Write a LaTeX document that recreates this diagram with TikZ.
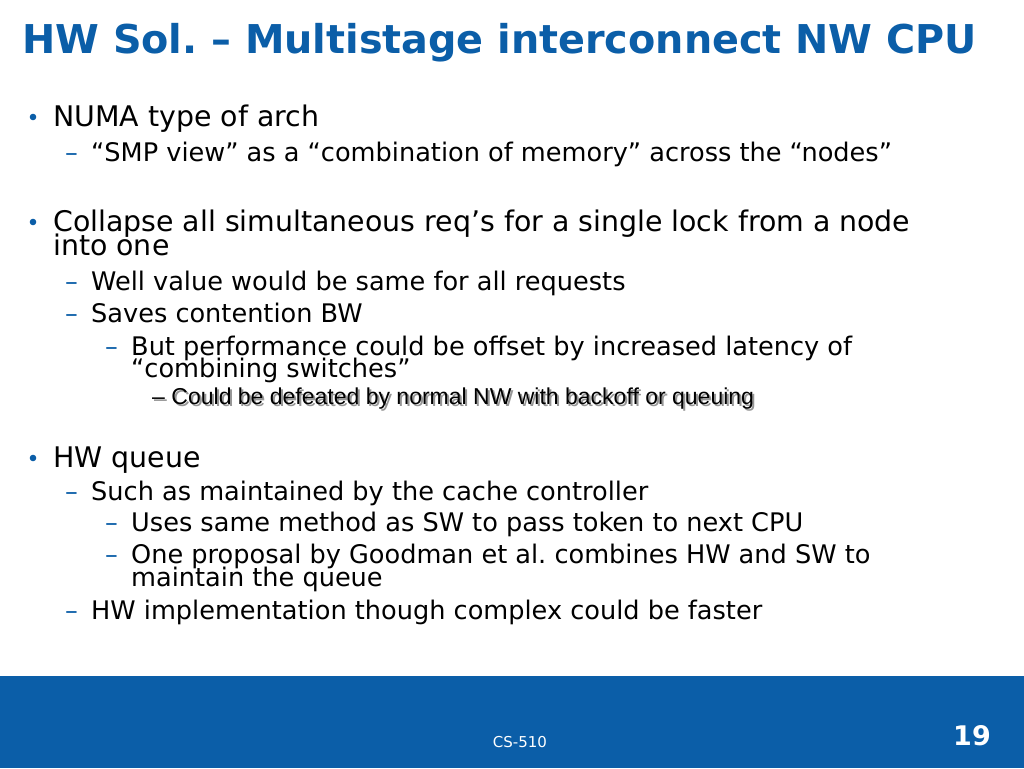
\documentclass[tikz,border=0pt]{standalone}
\usepackage{fontspec}
\setmainfont{DejaVu Sans}
\newfontfamily\arialfont{Liberation Sans}
\definecolor{slideblue}{RGB}{11,94,168}
\definecolor{shadowgray}{RGB}{150,150,150}
\frenchspacing
\tikzset{
	titletext/.style={anchor=base west,inner sep=0pt,text=slideblue,font=\fontsize{39.7}{41}\bfseries\selectfont},
	lvlone/.style={anchor=base west,inner sep=0pt,font=\fontsize{28.4}{30}\selectfont},
	lvltwo/.style={anchor=base west,inner sep=0pt,font=\fontsize{25.6}{27}\selectfont},
	lvlfour/.style={anchor=base west,inner sep=0pt,font=\arialfont\fontsize{23}{25}\selectfont},
	dashmark/.style={anchor=base west,inner sep=0pt,text=slideblue,font=\fontsize{25.6}{27}\selectfont},
	footertext/.style={inner sep=0pt,text=white,anchor=base}
}

\begin{document}
\begin{tikzpicture}[x=1pt,y=-1pt]
	\fill[white] (0,0) rectangle (1024,768);
	\useasboundingbox (0,0) rectangle (1024,768);
	% title
	\node[titletext] (title) at (22,54) {HW Sol. – Multistage interconnect NW CPU};
	% first bullet
	\fill[slideblue] (33,117) circle (3.3);
	\node[lvlone] (numa) at (53,126) {NUMA type of arch};
	\node[dashmark] (d1) at (65,161) {–};
	\node[lvltwo] (smp) at (91,161) {“SMP view” as a “combination of memory” across the “nodes”};
	% second bullet
	\fill[slideblue] (33,222) circle (3.3);
	\node[lvlone] (collapse) at (53,231) {Collapse all simultaneous req’s for a single lock from a node};
	\node[lvlone] (intoone) at (53,255) {into one};
	\node[dashmark] (d2) at (65,290) {–};
	\node[lvltwo] (well) at (91,290) {Well value would be same for all requests};
	\node[dashmark] (d3) at (65,322) {–};
	\node[lvltwo] (saves) at (91,322) {Saves contention BW};
	\node[dashmark] (d4) at (105,355) {–};
	\node[lvltwo] (perf) at (131,355) {But performance could be offset by increased latency of};
	\node[lvltwo] (comb) at (131,377) {“combining switches”};
	% shaded line
	\node[lvlfour,text=shadowgray] (defshadow) at (154,406) {–\hspace{6.5pt}Could be defeated by normal NW with backoff or queuing};
	\node[lvlfour] (defeated) at (152,404) {–\hspace{6.5pt}Could be defeated by normal NW with backoff or queuing};
	% third bullet
	\fill[slideblue] (33,458) circle (3.3);
	\node[lvlone] (hwq) at (53,467) {HW queue};
	\node[dashmark] (d5) at (65,500) {–};
	\node[lvltwo] (such) at (91,500) {Such as maintained by the cache controller};
	\node[dashmark] (d6) at (105,531) {–};
	\node[lvltwo] (uses) at (131,531) {Uses same method as SW to pass token to next CPU};
	\node[dashmark] (d7) at (105,563) {–};
	\node[lvltwo] (prop) at (131,563) {One proposal by Goodman et al. combines HW and SW to};
	\node[lvltwo] (maint) at (131,586) {maintain the queue};
	\node[dashmark] (d8) at (65,619) {–};
	\node[lvltwo] (impl) at (91,619) {HW implementation though complex could be faster};
	% footer
	\fill[slideblue] (0,676) rectangle (1024,768);
	\node[footertext,font=\fontsize{15}{17}\selectfont] (course) at (520,747) {CS-510};
	\node[footertext,font=\fontsize{27}{29}\bfseries\selectfont] (page) at (972,745) {19};
\end{tikzpicture}
\end{document}
